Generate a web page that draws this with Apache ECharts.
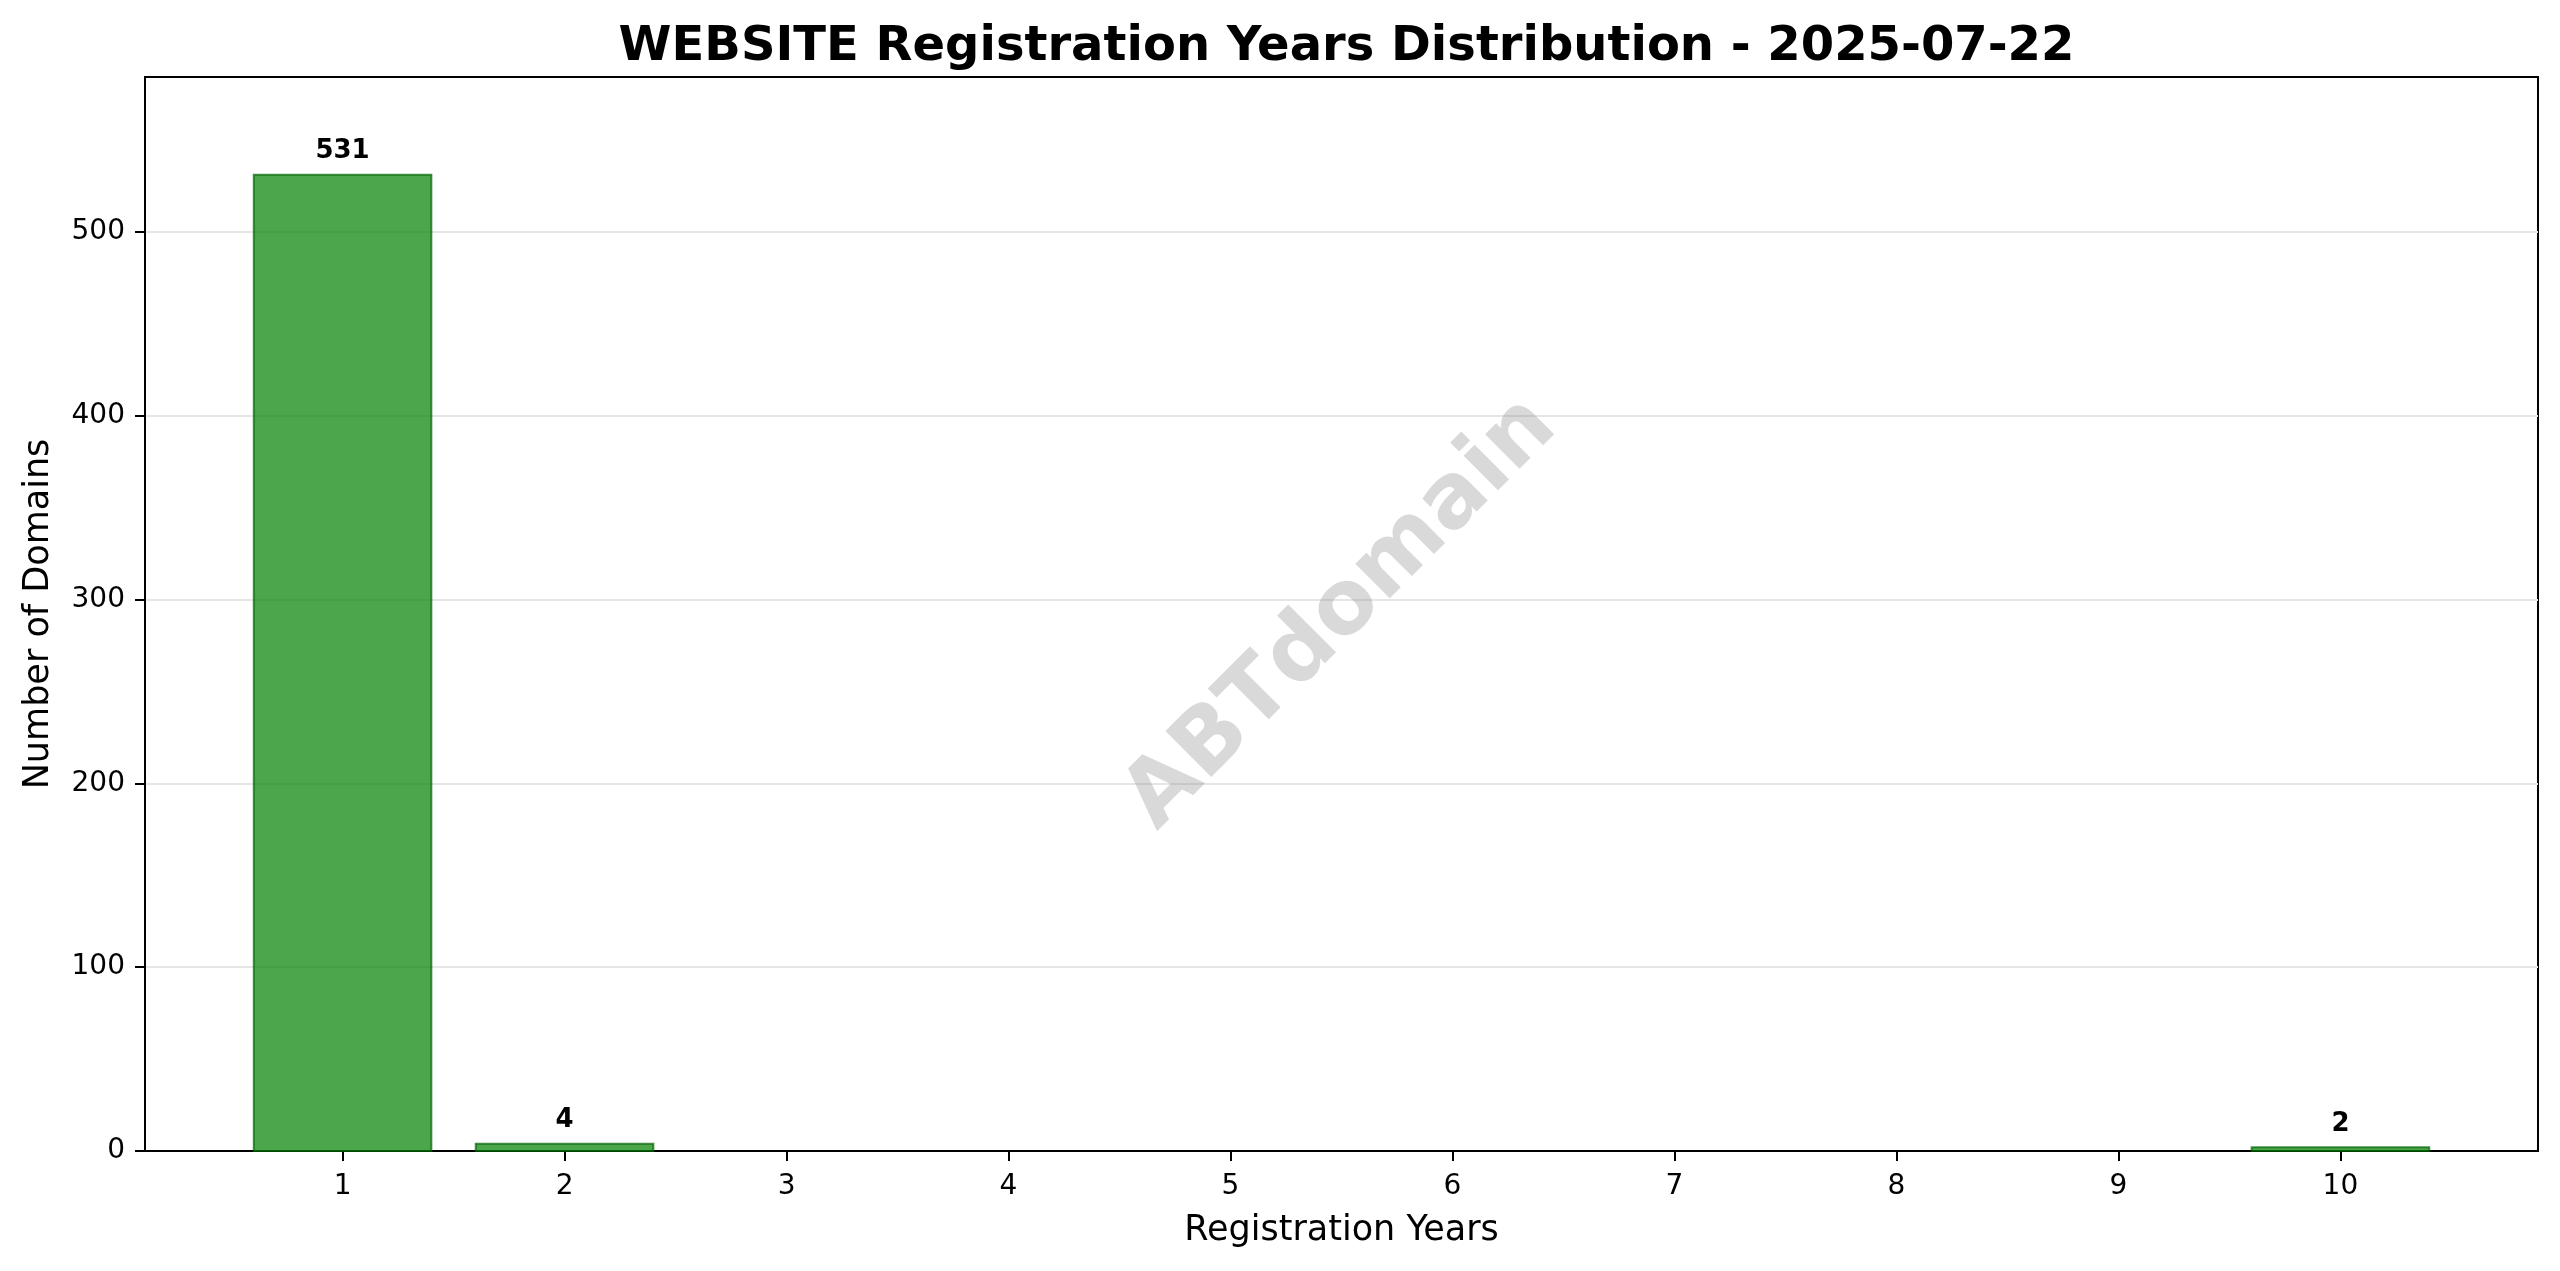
<!DOCTYPE html>
<html>
<head>
<meta charset="utf-8">
<script src="https://cdn.jsdelivr.net/npm/echarts@6/dist/echarts.min.js"></script>
<style>
html,body{margin:0;padding:0;background:#fff;}
#chart{width:2560px;height:1271px;}
</style>
</head>
<body>
<div id="chart"></div>
<script>
// Data
const years = [1, 2, 10];
const counts = [531, 4, 2];
const xTickLabels = [1, 2, 3, 4, 5, 6, 7, 8, 9, 10];
const yTickLabels = [0, 100, 200, 300, 400, 500];
const titleText = 'WEBSITE Registration Years Distribution - 2025-07-22';
const xName = 'Registration Years';
const yName = 'Number of Domains';
const watermark = 'ABTdomain';

const FONT = 'DejaVu Sans';
const yMax = Math.max(...counts) * 1.1;
const barHalf = 0.4;
const xMin = 0.6 - 0.05 * 9.8;
const xMax = 10.4 + 0.05 * 9.8;

const chart = echarts.init(document.getElementById('chart'), null, {renderer: 'canvas'});

const gridLeft = 145, gridRight = 22, gridTop = 77, gridBottom = 120;
const plotCx = gridLeft + (2560 - gridLeft - gridRight) / 2;
const plotCy = gridTop + (1271 - gridTop - gridBottom) / 2;

const option = {
  backgroundColor: '#ffffff',
  animation: false,
  title: {
    text: titleText,
    left: plotCx,
    top: 19,
    textAlign: 'center',
    textStyle: {fontFamily: FONT, fontWeight: 'bold', fontSize: 48, color: '#000'}
  },
  grid: {
    left: gridLeft, right: gridRight, top: gridTop, bottom: gridBottom,
    show: true, borderColor: '#000', borderWidth: 2, backgroundColor: 'transparent'
  },
  graphic: [{
    type: 'text',
    x: plotCx, y: plotCy,
    rotation: Math.PI / 4,
    z: 1,
    silent: true,
    style: {
      text: watermark,
      fill: 'rgba(128,128,128,0.3)',
      font: 'bold 89px "DejaVu Sans"',
      textAlign: 'center',
      textVerticalAlign: 'middle'
    }
  }],
  xAxis: {
    type: 'value',
    min: xMin, max: xMax,
    splitNumber: 10,
    name: xName,
    nameLocation: 'middle',
    nameGap: 62,
    nameTextStyle: {fontFamily: FONT, fontSize: 35, color: '#000'},
    axisLine: {show: true, onZero: false, lineStyle: {color: '#000', width: 2}},
    axisTick: {show: true, length: 10, lineStyle: {color: '#000', width: 2}, customValues: xTickLabels},
    axisLabel: {
      show: true, margin: 22, fontFamily: FONT, fontSize: 28, color: '#000',
      customValues: xTickLabels,
      formatter: v => Number.isInteger(v) ? String(v) : ''
    },
    splitLine: {show: false}
  },
  yAxis: {
    type: 'value',
    min: 0, max: yMax,
    interval: 100,
    name: yName,
    nameLocation: 'middle',
    nameGap: 89,
    nameTextStyle: {fontFamily: FONT, fontSize: 35, color: '#000'},
    axisLine: {show: true, lineStyle: {color: '#000', width: 2}},
    axisTick: {show: true, length: 10, lineStyle: {color: '#000', width: 2}, customValues: yTickLabels},
    axisLabel: {
      show: true, margin: 20, fontFamily: FONT, fontSize: 28, color: '#000',
      customValues: yTickLabels,
      formatter: v => Number.isInteger(v) ? String(v) : ''
    },
    splitLine: {show: true, lineStyle: {color: '#e6e6e6', width: 2}}
  },
  series: [{
    type: 'custom',
    z: 3,
    data: years.map((y, i) => [y, counts[i]]),
    renderItem: function (params, api) {
      const x = api.value(0), v = api.value(1);
      const p0 = api.coord([x - barHalf, v]);
      const p1 = api.coord([x + barHalf, 0]);
      const cx = api.coord([x, v])[0];
      return {
        type: 'group',
        children: [{
          type: 'rect',
          shape: {x: p0[0], y: p0[1], width: p1[0] - p0[0], height: p1[1] - p0[1]},
          style: {fill: 'rgba(0,128,0,0.7)', stroke: 'rgba(0,100,0,0.7)', lineWidth: 2}
        }, {
          type: 'text',
          style: {
            text: String(v), x: cx, y: p0[1] - 10,
            textAlign: 'center', textVerticalAlign: 'bottom',
            font: 'bold 26px "DejaVu Sans"', fill: '#000'
          }
        }]
      };
    }
  }]
};
chart.setOption(option);
</script>
</body>
</html>
